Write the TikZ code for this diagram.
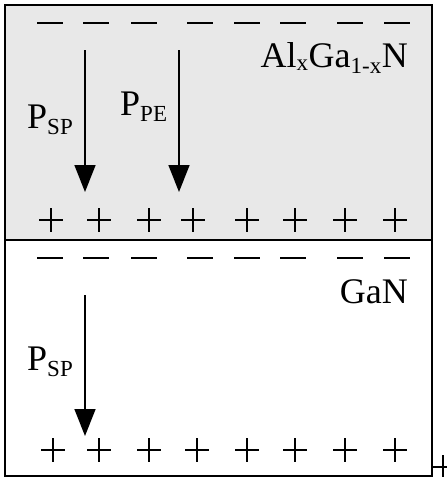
\documentclass[tikz,border=0pt]{standalone}
\usepackage{fontspec}
\setmainfont{Liberation Serif}
\usetikzlibrary{arrows.meta}
\tikzset{
  layer/.style={draw, line width=2pt},
  charge/.style={line width=1.5pt},
  pol/.style={-{Triangle[length=27pt,width=21pt]}, line width=1.5pt},
  lbl/.style={inner sep=0pt, font=\fontsize{36}{42}\selectfont}
}
\newcommand{\sub}[1]{\textsubscript{\fontsize{23}{23}\selectfont #1}}

\begin{document}
\begin{tikzpicture}[x=1pt,y=-1pt]
\useasboundingbox (0,0) rectangle (447,477);

% Layers: AlGaN on top, GaN below
\fill[black!9] (5,5) rectangle (432,240);
\draw[layer] (5,5) rectangle (432,476);
\draw[layer] (5,240) -- (432,240);

% Bound charges
\foreach \x in {50,96,144,200,247,293,350,397} {
  \draw[charge] (\x-13,23) -- (\x+13,23);
  \draw[charge] (\x-13,258) -- (\x+13,258);
}
\foreach \x in {51,99,149,193,247,295,345,395} {
  \draw[charge] (\x-12,220) -- (\x+12,220) (\x,208) -- (\x,232);
}
\foreach \x in {53,99,149,197,247,295,345,395} {
  \draw[charge] (\x-12,450) -- (\x+12,450) (\x,438) -- (\x,462);
}
\draw[charge] (432,467) -- (455,467) (443,455) -- (443,479);

% Labels
\node[lbl, anchor=base west] (psp1) at (27,128) {P\sub{SP}};
\node[lbl, anchor=base west] (ppe) at (120,115) {P\sub{PE}};
\node[lbl, anchor=base east] (algan) at (408,67) {Al\sub{x}Ga\sub{1-x}N};
\node[lbl, anchor=base east] (gan) at (408,303) {GaN};
\node[lbl, anchor=base west] (psp2) at (27,370) {P\sub{SP}};

% Polarization arrows
\coordinate (a1s) at (85,50);  \coordinate (a1e) at (85,192);
\coordinate (a2s) at (179,50); \coordinate (a2e) at (179,192);
\coordinate (a3s) at (85,295); \coordinate (a3e) at (85,436);
\draw[pol] (a1s) -- (a1e);
\draw[pol] (a2s) -- (a2e);
\draw[pol] (a3s) -- (a3e);

\end{tikzpicture}
\end{document}
